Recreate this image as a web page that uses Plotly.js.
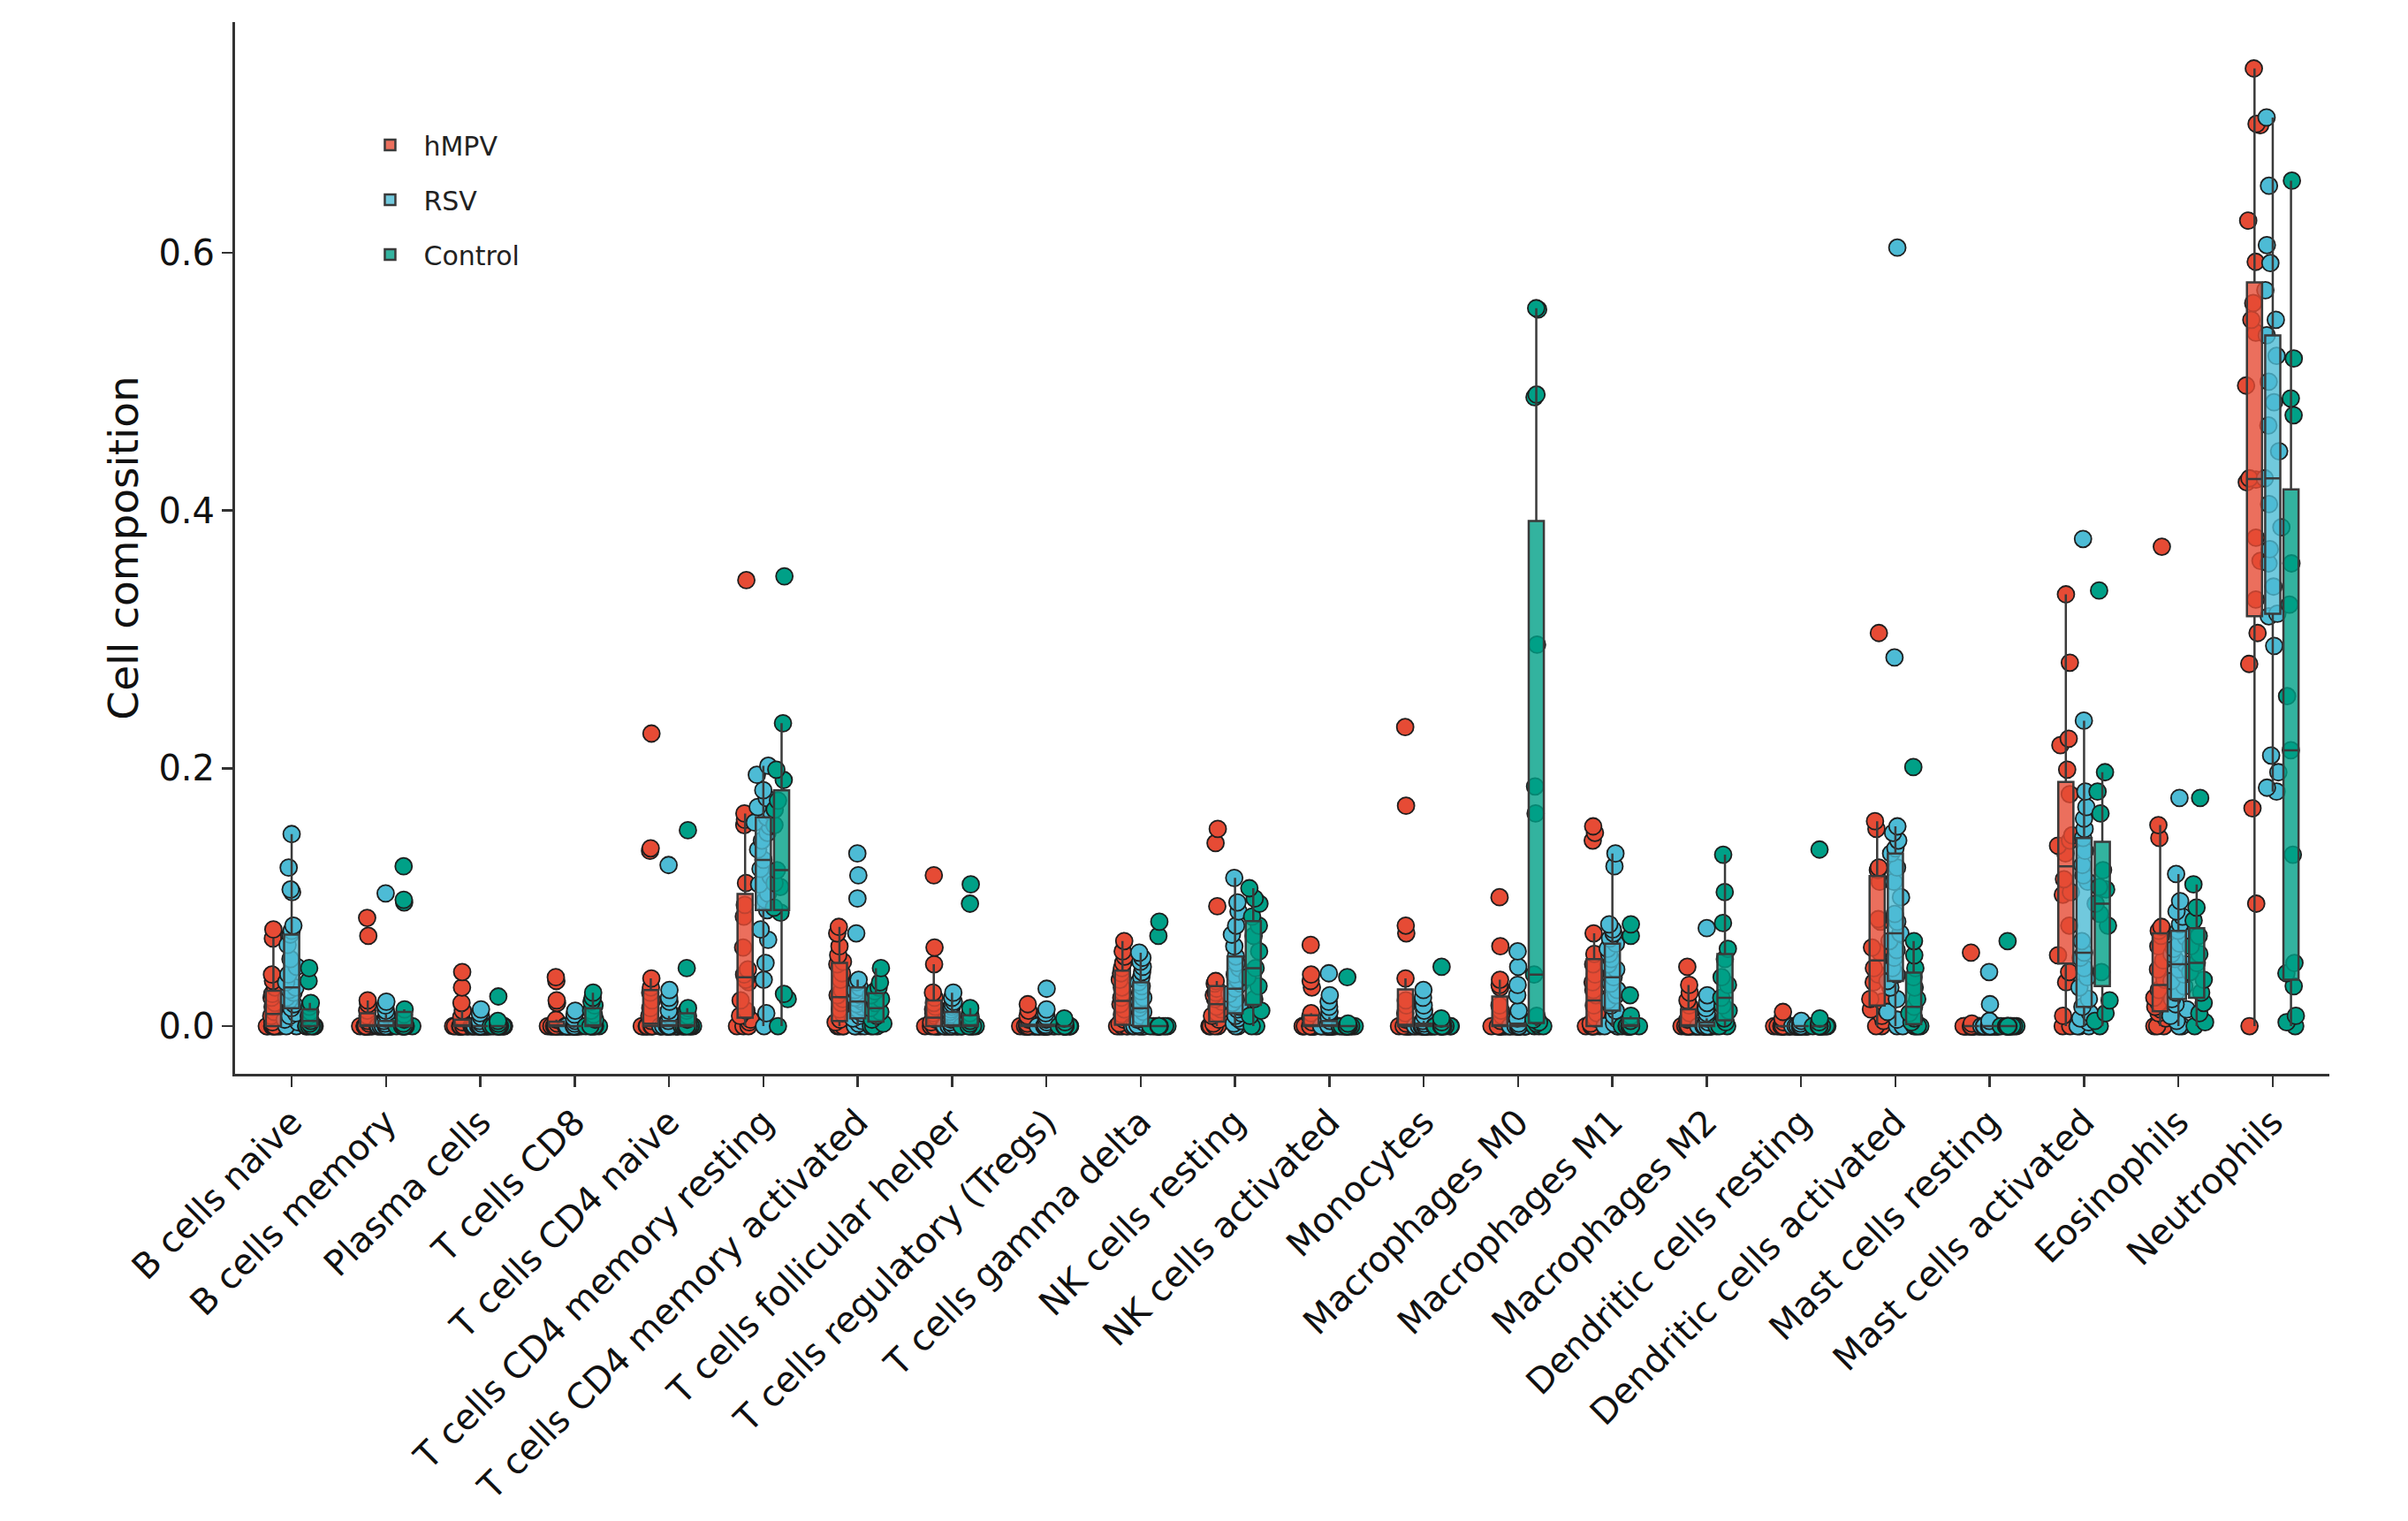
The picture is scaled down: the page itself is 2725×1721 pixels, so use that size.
<!DOCTYPE html>
<html>
<head>
<meta charset="utf-8">
<script src="https://cdn.plot.ly/plotly-3.0.1.min.js"></script>
<style>
  html, body { margin: 0; padding: 0; background: #ffffff; }
  #plot { width: 2725px; height: 1721px; }
</style>
</head>
<body>
<div id="plot"></div>
<script>

// Cell types on the x axis
const cell_types = [
  "B cells naive", "B cells memory", "Plasma cells", "T cells CD8",
  "T cells CD4 naive", "T cells CD4 memory resting", "T cells CD4 memory activated",
  "T cells follicular helper", "T cells regulatory (Tregs)", "T cells gamma delta",
  "NK cells resting", "NK cells activated", "Monocytes", "Macrophages M0",
  "Macrophages M1", "Macrophages M2", "Dendritic cells resting",
  "Dendritic cells activated", "Mast cells resting", "Mast cells activated",
  "Eosinophils", "Neutrophils"
];

const group_names = ["hMPV", "RSV", "Control"];
const group_cols = ["#E64B35", "#4DBBD5", "#00A087"];
const group_fills = ["rgba(230,75,53,0.8)", "rgba(77,187,213,0.8)", "rgba(0,160,135,0.8)"];

// Per-sample cell fractions, one list per cell type (same order as cell_types)
const hmpv = [
  [0.075, 0.068, 0.040, 0.035, 0.030, 0.025, 0.022, 0.018, 0.015, 0.011, 0.008, 0.003, 0, 0, 0, 0, 0, 0, 0, 0],
  [0.084, 0.070, 0.020, 0.017, 0.012, 0.008, 0.004, 0.002, 0, 0, 0, 0, 0, 0, 0, 0, 0, 0, 0, 0],
  [0.042, 0.030, 0.018, 0.012, 0.007, 0.003, 0, 0, 0, 0, 0, 0, 0, 0, 0, 0, 0, 0, 0, 0],
  [0.038, 0.035, 0.020, 0.018, 0.005, 0.002, 0, 0, 0, 0, 0, 0, 0, 0, 0, 0, 0, 0, 0, 0],
  [0.227, 0.138, 0.136, 0.037, 0.030, 0.026, 0.020, 0.014, 0.008, 0.004, 0, 0, 0, 0, 0, 0, 0, 0, 0, 0],
  [0.346, 0.165, 0.160, 0.156, 0.111, 0.094, 0.085, 0.061, 0.044, 0.040, 0.036, 0.034, 0.020, 0.012, 0.008, 0.005, 0.003, 0, 0, 0],
  [0.077, 0.072, 0.062, 0.055, 0.050, 0.048, 0.041, 0.036, 0.028, 0.024, 0.021, 0.018, 0.013, 0.010, 0.005, 0.003, 0, 0, 0, 0],
  [0.117, 0.061, 0.048, 0.026, 0.022, 0.018, 0.015, 0.013, 0.010, 0.008, 0.005, 0.003, 0, 0, 0, 0, 0, 0, 0, 0],
  [0.017, 0.012, 0.008, 0.005, 0.002, 0, 0, 0, 0, 0, 0, 0, 0, 0, 0, 0, 0, 0, 0, 0],
  [0.066, 0.058, 0.054, 0.049, 0.045, 0.041, 0.036, 0.030, 0.026, 0.022, 0.017, 0.013, 0.009, 0.005, 0.002, 0, 0, 0, 0, 0],
  [0.153, 0.142, 0.093, 0.035, 0.033, 0.029, 0.026, 0.024, 0.021, 0.019, 0.015, 0.013, 0.010, 0.008, 0.005, 0.002, 0, 0, 0, 0],
  [0.063, 0.040, 0.035, 0.030, 0.010, 0.007, 0.003, 0, 0, 0, 0, 0, 0, 0, 0, 0, 0, 0, 0, 0],
  [0.232, 0.171, 0.078, 0.072, 0.037, 0.020, 0.016, 0.010, 0.005, 0.002, 0, 0, 0, 0, 0, 0, 0, 0, 0, 0],
  [0.100, 0.062, 0.036, 0.032, 0.030, 0.016, 0.012, 0.008, 0.004, 0, 0, 0, 0, 0, 0, 0, 0, 0, 0, 0],
  [0.155, 0.150, 0.144, 0.072, 0.056, 0.048, 0.040, 0.034, 0.028, 0.024, 0.016, 0.010, 0.006, 0.002, 0, 0, 0, 0, 0, 0],
  [0.046, 0.032, 0.026, 0.020, 0.016, 0.010, 0.005, 0, 0, 0, 0, 0, 0, 0, 0, 0, 0, 0, 0, 0],
  [0.011, 0.006, 0.003, 0, 0, 0, 0, 0, 0, 0, 0, 0, 0, 0, 0, 0, 0, 0, 0, 0],
  [0.305, 0.159, 0.153, 0.123, 0.121, 0.112, 0.083, 0.081, 0.061, 0.057, 0.045, 0.040, 0.034, 0.021, 0.019, 0.013, 0.008, 0.004, 0, 0],
  [0.057, 0.002, 0, 0, 0, 0, 0, 0, 0, 0, 0, 0, 0, 0, 0, 0, 0, 0, 0, 0],
  [0.335, 0.282, 0.223, 0.218, 0.199, 0.180, 0.148, 0.144, 0.140, 0.134, 0.114, 0.104, 0.102, 0.078, 0.055, 0.042, 0.034, 0.008, 0, 0],
  [0.372, 0.156, 0.146, 0.077, 0.074, 0.070, 0.062, 0.051, 0.044, 0.036, 0.028, 0.022, 0.018, 0.015, 0.013, 0.010, 0.006, 0, 0, 0],
  [0.743, 0.700, 0.699, 0.625, 0.593, 0.561, 0.548, 0.538, 0.497, 0.425, 0.424, 0.422, 0.379, 0.361, 0.331, 0.305, 0.281, 0.169, 0.095, 0]
];

const rsv = [
  [0.149, 0.123, 0.106, 0.104, 0.078, 0.074, 0.071, 0.063, 0.052, 0.046, 0.040, 0.034, 0.030, 0.028, 0.026, 0.022, 0.020, 0.017, 0.014, 0.010, 0.008, 0.005, 0.003, 0, 0],
  [0.103, 0.019, 0.016, 0.012, 0.009, 0.006, 0.004, 0.002, 0, 0, 0, 0, 0, 0, 0, 0, 0, 0, 0, 0, 0, 0, 0, 0, 0],
  [0.013, 0.010, 0.007, 0.004, 0.002, 0, 0, 0, 0, 0, 0, 0, 0, 0, 0, 0, 0, 0, 0, 0, 0, 0, 0, 0, 0],
  [0.012, 0.009, 0.006, 0.004, 0.002, 0, 0, 0, 0, 0, 0, 0, 0, 0, 0, 0, 0, 0, 0, 0, 0, 0, 0, 0, 0],
  [0.125, 0.028, 0.022, 0.019, 0.012, 0.008, 0.004, 0, 0, 0, 0, 0, 0, 0, 0, 0, 0, 0, 0, 0, 0, 0, 0, 0, 0],
  [0.202, 0.195, 0.183, 0.177, 0.170, 0.166, 0.162, 0.158, 0.155, 0.150, 0.144, 0.137, 0.129, 0.122, 0.116, 0.110, 0.103, 0.098, 0.090, 0.075, 0.067, 0.049, 0.036, 0.010, 0],
  [0.134, 0.117, 0.099, 0.072, 0.036, 0.034, 0.030, 0.028, 0.026, 0.024, 0.022, 0.021, 0.019, 0.017, 0.015, 0.013, 0.010, 0.008, 0.006, 0.004, 0.002, 0, 0, 0, 0],
  [0.026, 0.022, 0.019, 0.017, 0.015, 0.013, 0.011, 0.009, 0.007, 0.005, 0.003, 0.001, 0, 0, 0, 0, 0, 0, 0, 0, 0, 0, 0, 0, 0],
  [0.029, 0.013, 0.010, 0.007, 0.005, 0.003, 0.001, 0, 0, 0, 0, 0, 0, 0, 0, 0, 0, 0, 0, 0, 0, 0, 0, 0, 0],
  [0.057, 0.053, 0.050, 0.046, 0.042, 0.038, 0.034, 0.031, 0.027, 0.022, 0.019, 0.017, 0.014, 0.011, 0.008, 0.005, 0.003, 0.001, 0, 0, 0, 0, 0, 0, 0],
  [0.115, 0.096, 0.089, 0.078, 0.071, 0.062, 0.054, 0.049, 0.045, 0.040, 0.036, 0.033, 0.029, 0.025, 0.021, 0.018, 0.015, 0.013, 0.010, 0.008, 0.006, 0.004, 0.002, 0, 0],
  [0.041, 0.024, 0.019, 0.015, 0.011, 0.007, 0.004, 0.001, 0, 0, 0, 0, 0, 0, 0, 0, 0, 0, 0, 0, 0, 0, 0, 0, 0],
  [0.028, 0.022, 0.016, 0.012, 0.008, 0.004, 0.002, 0, 0, 0, 0, 0, 0, 0, 0, 0, 0, 0, 0, 0, 0, 0, 0, 0, 0],
  [0.058, 0.046, 0.032, 0.024, 0.012, 0.006, 0.002, 0, 0, 0, 0, 0, 0, 0, 0, 0, 0, 0, 0, 0, 0, 0, 0, 0, 0],
  [0.134, 0.124, 0.079, 0.075, 0.072, 0.068, 0.064, 0.060, 0.056, 0.052, 0.048, 0.044, 0.038, 0.033, 0.028, 0.024, 0.020, 0.016, 0.012, 0.008, 0.005, 0.002, 0, 0, 0],
  [0.076, 0.024, 0.018, 0.014, 0.010, 0.006, 0.003, 0, 0, 0, 0, 0, 0, 0, 0, 0, 0, 0, 0, 0, 0, 0, 0, 0, 0],
  [0.004, 0.002, 0, 0, 0, 0, 0, 0, 0, 0, 0, 0, 0, 0, 0, 0, 0, 0, 0, 0, 0, 0, 0, 0, 0],
  [0.604, 0.286, 0.155, 0.150, 0.144, 0.138, 0.134, 0.123, 0.112, 0.100, 0.087, 0.081, 0.072, 0.066, 0.059, 0.053, 0.045, 0.040, 0.035, 0.030, 0.021, 0.011, 0.005, 0, 0],
  [0.042, 0.017, 0.004, 0, 0, 0, 0, 0, 0, 0, 0, 0, 0, 0, 0, 0, 0, 0, 0, 0, 0, 0, 0, 0, 0],
  [0.378, 0.237, 0.182, 0.170, 0.161, 0.153, 0.146, 0.136, 0.125, 0.117, 0.112, 0.066, 0.057, 0.053, 0.045, 0.038, 0.030, 0.021, 0.015, 0.010, 0.006, 0.003, 0, 0, 0],
  [0.177, 0.118, 0.097, 0.089, 0.085, 0.079, 0.074, 0.069, 0.064, 0.060, 0.056, 0.052, 0.048, 0.044, 0.040, 0.035, 0.031, 0.026, 0.021, 0.017, 0.013, 0.008, 0.004, 0, 0],
  [0.705, 0.652, 0.606, 0.592, 0.571, 0.548, 0.536, 0.520, 0.500, 0.484, 0.466, 0.446, 0.425, 0.405, 0.387, 0.370, 0.359, 0.341, 0.320, 0.318, 0.295, 0.210, 0.197, 0.185, 0.182]
];

const control = [
  [0.045, 0.035, 0.018, 0.015, 0.011, 0.008, 0.006, 0.004, 0.002, 0, 0, 0, 0, 0, 0],
  [0.124, 0.098, 0.096, 0.013, 0.009, 0.005, 0.002, 0, 0, 0, 0, 0, 0, 0, 0],
  [0.023, 0.004, 0.002, 0, 0, 0, 0, 0, 0, 0, 0, 0, 0, 0, 0],
  [0.026, 0.022, 0.019, 0.016, 0.012, 0.009, 0.005, 0, 0, 0, 0, 0, 0, 0, 0],
  [0.152, 0.045, 0.014, 0.012, 0.008, 0.005, 0, 0, 0, 0, 0, 0, 0, 0, 0],
  [0.349, 0.235, 0.199, 0.191, 0.175, 0.168, 0.156, 0.121, 0.111, 0.108, 0.092, 0.088, 0.025, 0.021, 0],
  [0.045, 0.034, 0.030, 0.027, 0.024, 0.021, 0.018, 0.014, 0.011, 0.008, 0.005, 0.002, 0, 0, 0],
  [0.110, 0.095, 0.014, 0.010, 0.007, 0.004, 0.002, 0, 0, 0, 0, 0, 0, 0, 0],
  [0.006, 0.003, 0, 0, 0, 0, 0, 0, 0, 0, 0, 0, 0, 0, 0],
  [0.081, 0.070, 0, 0, 0, 0, 0, 0, 0, 0, 0, 0, 0, 0, 0],
  [0.107, 0.099, 0.095, 0.085, 0.078, 0.070, 0.058, 0.045, 0.038, 0.031, 0.021, 0.012, 0.008, 0, 0],
  [0.038, 0.002, 0, 0, 0, 0, 0, 0, 0, 0, 0, 0, 0, 0, 0],
  [0.046, 0.006, 0.003, 0, 0, 0, 0, 0, 0, 0, 0, 0, 0, 0, 0],
  [0.557, 0.556, 0.490, 0.488, 0.296, 0.186, 0.165, 0.040, 0.008, 0.005, 0.003, 0.002, 0, 0, 0],
  [0.079, 0.070, 0.024, 0.008, 0.004, 0, 0, 0, 0, 0, 0, 0, 0, 0, 0],
  [0.133, 0.104, 0.080, 0.060, 0.052, 0.038, 0.032, 0.022, 0.016, 0.012, 0.006, 0.003, 0, 0, 0],
  [0.137, 0.006, 0.003, 0, 0, 0, 0, 0, 0, 0, 0, 0, 0, 0, 0],
  [0.201, 0.066, 0.055, 0.045, 0.038, 0.030, 0.021, 0.015, 0.010, 0.006, 0.003, 0, 0, 0, 0],
  [0.066, 0, 0, 0, 0, 0, 0, 0, 0, 0, 0, 0, 0, 0, 0],
  [0.338, 0.197, 0.182, 0.165, 0.121, 0.108, 0.106, 0.095, 0.087, 0.078, 0.042, 0.020, 0.010, 0.004, 0],
  [0.177, 0.110, 0.092, 0.082, 0.070, 0.062, 0.056, 0.049, 0.042, 0.036, 0.026, 0.018, 0.010, 0.003, 0],
  [0.656, 0.518, 0.487, 0.474, 0.359, 0.327, 0.256, 0.214, 0.133, 0.049, 0.041, 0.031, 0.008, 0.003, 0]
];

const y_ticks = [0, 0.2, 0.4, 0.6];
const y_ticklabels = ["0.0", "0.2", "0.4", "0.6"];

// Long format: one x label per sample value
const group_data = [hmpv, rsv, control];
const long_data = group_data.map(series => {
  let x = [];
  let y = [];
  series.forEach((vals, i) => {
    vals.forEach(v => {
      x.push(cell_types[i]);
      y.push(v);
    });
  });
  return {x: x, y: y};
});

// Narrow boxes; outliers kept so whiskers stop at 1.5 IQR, but hidden (points drawn below)
let box_traces = group_names.map((name, g) => ({
  type: "box",
  name: name,
  legendgroup: name,
  x: long_data[g].x,
  y: long_data[g].y,
  quartilemethod: "inclusive",
  boxpoints: "outliers",
  marker: {opacity: 0, size: 1},
  whiskerwidth: 0,
  fillcolor: group_fills[g],
  line: {color: "#3a3a3a", width: 2.5},
  hoverinfo: "skip",
  showlegend: true
}));

// Jittered points, drawn with invisible violins so the spread can be wider than the box
let point_traces = group_names.map((name, g) => ({
  type: "violin",
  name: name,
  legendgroup: name,
  x: long_data[g].x,
  y: long_data[g].y,
  points: "all",
  jitter: 1,
  pointpos: 0,
  spanmode: "hard",
  box: {visible: false},
  meanline: {visible: false},
  line: {color: "rgba(0,0,0,0)", width: 0},
  fillcolor: "rgba(0,0,0,0)",
  marker: {
    color: group_cols[g],
    size: 19,
    opacity: 1,
    line: {color: "#1e1e1e", width: 1.8}
  },
  hoveron: "points",
  showlegend: false
}));

let layout = {
  width: 2725,
  height: 1721,
  margin: {l: 266, r: 89, t: 25, b: 506},
  paper_bgcolor: "#ffffff",
  plot_bgcolor: "#ffffff",
  font: {family: "DejaVu Sans", color: "#111111"},
  boxmode: "group",
  boxgap: 0.42,
  boxgroupgap: 0.17,
  violinmode: "group",
  violingap: 0.42,
  violingroupgap: 0,
  showlegend: true,
  legend: {
    x: 0.058,
    y: 0.905,
    xanchor: "left",
    yanchor: "top",
    bgcolor: "rgba(0,0,0,0)",
    font: {family: "DejaVu Sans", size: 30, color: "#222222"},
    tracegroupgap: 20,
    itemwidth: 66
  },
  xaxis: {
    type: "category",
    categoryorder: "array",
    categoryarray: cell_types,
    range: [-0.6, 21.6],
    showgrid: false,
    zeroline: false,
    showline: true,
    linecolor: "#333333",
    linewidth: 3,
    ticks: "outside",
    ticklen: 12,
    tickwidth: 2.5,
    tickcolor: "#333333",
    tickangle: -45,
    tickfont: {family: "DejaVu Sans", size: 40, color: "#111111"},
    fixedrange: true
  },
  yaxis: {
    range: [-0.037, 0.779],
    tickmode: "array",
    tickvals: y_ticks,
    ticktext: y_ticklabels,
    showgrid: false,
    zeroline: false,
    showline: true,
    linecolor: "#333333",
    linewidth: 3,
    ticks: "outside",
    ticklen: 12,
    tickwidth: 2.5,
    tickcolor: "#333333",
    tickfont: {family: "DejaVu Sans", size: 40, color: "#111111"},
    title: {
      text: "Cell composition",
      standoff: 8,
      font: {family: "DejaVu Sans", size: 47, color: "#111111"}
    },
    fixedrange: true
  }
};

Plotly.newPlot("plot", box_traces.concat(point_traces), layout, {displayModeBar: false, staticPlot: true});

</script>
</body>
</html>
